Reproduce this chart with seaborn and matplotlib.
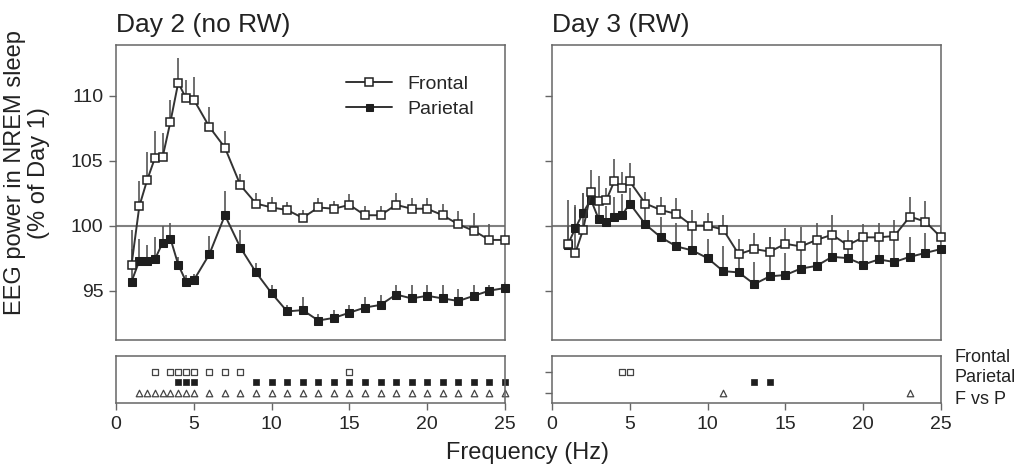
import numpy as np
import pandas as pd
import matplotlib
matplotlib.use("Agg")
import matplotlib.pyplot as plt
import seaborn as sns

#################################################################
# Data
freq = [1, 1.5, 2, 2.5, 3, 3.5, 4, 4.5, 5, 6, 7, 8, 9, 10, 11, 12, 13, 14, 15,
        16, 17, 18, 19, 20, 21, 22, 23, 24, 25]

day2_frontal = [97.0, 101.5, 103.5, 105.2, 105.3, 108.0, 111.0, 109.8, 109.7, 107.6,
                106.0, 103.1, 101.7, 101.4, 101.2, 100.6, 101.4, 101.3, 101.6, 100.8,
                100.8, 101.6, 101.3, 101.3, 100.8, 100.1, 99.6, 98.9, 98.9]
day2_frontal_err = [2.7, 1.9, 2.2, 2.1, 1.8, 1.7, 1.9, 1.4, 1.7, 1.5, 1.3, 0.9, 0.8,
                    0.8, 0.6, 0.6, 0.7, 0.6, 0.8, 0.7, 0.7, 0.9, 0.8, 0.8, 0.9, 1.0,
                    1.4, 1.2, 0.8]
day2_parietal = [95.7, 97.3, 97.3, 97.4, 98.7, 99.0, 97.0, 95.7, 95.8, 97.8, 100.8,
                 98.3, 96.4, 94.8, 93.4, 93.5, 92.7, 92.9, 93.3, 93.7, 93.9, 94.7,
                 94.4, 94.6, 94.4, 94.2, 94.6, 95.0, 95.2]
day2_parietal_err = [2.5, 1.7, 1.2, 1.7, 1.3, 1.2, 0.6, 0.5, 0.5, 1.4, 1.9, 1.4, 0.7,
                     0.6, 0.5, 1.0, 0.5, 0.6, 0.6, 0.8, 0.8, 0.7, 1.0, 0.8, 1.0, 0.9,
                     0.8, 0.4, 0.5]

day3_frontal = [98.6, 97.9, 99.7, 102.6, 101.9, 102.0, 103.4, 102.9, 103.4, 101.7,
                101.2, 100.9, 100.0, 100.0, 99.7, 97.8, 98.2, 98.0, 98.6, 98.4, 98.9,
                99.3, 98.5, 99.1, 99.1, 99.2, 100.7, 100.3, 99.1]
day3_frontal_err = [3.4, 3.5, 2.8, 1.7, 1.9, 0.9, 1.7, 1.2, 1.4, 0.9, 1.0, 1.2, 1.2,
                    1.0, 1.1, 1.2, 1.2, 1.1, 1.2, 1.5, 1.3, 1.5, 1.2, 1.0, 1.1, 1.2,
                    1.5, 1.6, 0.8]
day3_parietal = [98.5, 99.8, 101.0, 102.0, 100.5, 100.3, 100.7, 100.8, 101.7, 100.1,
                 99.1, 98.4, 98.1, 97.5, 96.5, 96.4, 95.5, 96.1, 96.2, 96.7, 96.9,
                 97.6, 97.5, 97.0, 97.4, 97.2, 97.6, 97.9, 98.2]
day3_parietal_err = [1.5, 1.8, 1.5, 1.0, 1.6, 1.2, 1.5, 1.6, 1.2, 1.3, 1.6, 1.8, 2.0,
                     1.5, 1.9, 1.6, 1.7, 3.0, 1.7, 1.7, 2.0, 1.5, 1.2, 2.1, 1.6, 2.0,
                     1.5, 1.5, 1.0]

# significant bins
day2_sig_frontal = [2.5, 3.5, 4, 4.5, 5, 6, 7, 8, 15]
day2_sig_parietal = [4, 4.5, 5, 9, 10, 11, 12, 13, 14, 15, 16, 17, 18, 19, 20, 21,
                     22, 23, 24, 25]
day2_sig_fvp = [1.5, 2, 2.5, 3, 3.5, 4, 4.5, 5, 6, 7, 8, 9, 10, 11, 12, 13, 14, 15,
                16, 17, 18, 19, 20, 21, 22, 23, 24, 25]
day3_sig_frontal = [4.5, 5]
day3_sig_parietal = [13, 14]
day3_sig_fvp = [11, 23]

titles = ["Day 2 (no RW)", "Day 3 (RW)"]
row_labels = ["Frontal", "Parietal", "F vs P"]
#################################################################

sns.set_theme(style="ticks")
plt.rcParams['font.family'] = ['Liberation Sans', 'DejaVu Sans']

line_col = '#333333'
spine_col = '#666666'

fig = plt.figure(figsize=(10.23, 4.65), dpi=100)
W, H = 1023, 465


def px_axes(x0, y0, x1, y1):
    return fig.add_axes([x0 / W, 1 - y1 / H, (x1 - x0) / W, (y1 - y0) / H])


main_axes = [px_axes(116, 45, 505, 340), px_axes(552, 45, 941, 340)]
sig_axes = [px_axes(116, 356, 505, 403), px_axes(552, 356, 941, 403)]

series = [
    (day2_frontal, day2_frontal_err, day2_parietal, day2_parietal_err),
    (day3_frontal, day3_frontal_err, day3_parietal, day3_parietal_err),
]
sigs = [
    (day2_sig_frontal, day2_sig_parietal, day2_sig_fvp),
    (day3_sig_frontal, day3_sig_parietal, day3_sig_fvp),
]

for i, ax in enumerate(main_axes):
    fr, fr_err, pa, pa_err = series[i]
    df = pd.DataFrame({'freq': freq, 'frontal': fr, 'fr_err': fr_err,
                       'parietal': pa, 'pa_err': pa_err})

    ax.axhline(100, color='#808080', lw=1.5, zorder=0)

    # one-sided (upward) error bars
    ax.vlines(df['freq'], df['parietal'], df['parietal'] + df['pa_err'],
              color='#555555', lw=1.2, zorder=1)
    ax.vlines(df['freq'], df['frontal'], df['frontal'] + df['fr_err'],
              color='#555555', lw=1.2, zorder=1)

    sns.lineplot(data=df, x='freq', y='parietal', ax=ax, color=line_col, lw=1.4,
                 marker='s', markersize=5.6, markerfacecolor='#1e1e1e',
                 markeredgecolor='#1e1e1e', label='Parietal', zorder=3,
                 clip_on=False)
    sns.lineplot(data=df, x='freq', y='frontal', ax=ax, color=line_col, lw=1.4,
                 marker='s', markersize=5.8, markerfacecolor='white',
                 markeredgecolor='#222222', markeredgewidth=1.1,
                 label='Frontal', zorder=4, clip_on=False)

    ax.set_xlim(0, 25)
    ax.set_ylim(91.2, 113.9)
    ax.set_yticks([95, 100, 105, 110])
    ax.set_xticks([])
    ax.set_xlabel('')
    ax.set_ylabel('')
    ax.tick_params(axis='y', length=5, width=1, color=spine_col, labelsize=14, pad=4)
    if i == 1:
        ax.tick_params(axis='y', labelleft=False)
    for s in ax.spines.values():
        s.set_color(spine_col)
        s.set_linewidth(1.1)
    ax.get_legend().remove()

    fig.text((116 if i == 0 else 552) / W, 1 - 32 / H, titles[i], fontsize=19,
             ha='left', va='baseline', color='#222222')

# legend in the left panel, Frontal first
h, l = main_axes[0].get_legend_handles_labels()
order = [l.index('Frontal'), l.index('Parietal')]
main_axes[0].legend([h[k] for k in order], [l[k] for k in order],
                    loc='upper left', bbox_to_anchor=(0.57, 0.925), frameon=False,
                    fontsize=14, handlelength=2.4, labelspacing=0.4,
                    borderaxespad=0, markerscale=0.9)

row_y = [3, 2, 1]
for i, ax in enumerate(sig_axes):
    sf, sp, sv = sigs[i]
    sns.scatterplot(x=sf, y=[row_y[0]] * len(sf), ax=ax, marker='s', s=16,
                    facecolor='white', edgecolor='#444444', linewidth=0.9,
                    clip_on=False)
    sns.scatterplot(x=sp, y=[row_y[1]] * len(sp), ax=ax, marker='s', s=18,
                    color='#1e1e1e', edgecolor='#1e1e1e', linewidth=0.5,
                    clip_on=False)
    sns.scatterplot(x=sv, y=[row_y[2]] * len(sv), ax=ax, marker='^', s=22,
                    facecolor='white', edgecolor='#444444', linewidth=0.9,
                    clip_on=False)
    ax.set_xlim(0, 25)
    ax.set_ylim(0.05, 4.5)
    ax.set_xticks([0, 5, 10, 15, 20, 25])
    ax.tick_params(axis='x', length=5, width=1, color=spine_col, labelsize=14, pad=4)
    if i == 1:
        ax.set_yticks([3, 1])
        ax.tick_params(axis='y', length=5, width=1, color=spine_col, labelleft=False)
    else:
        ax.set_yticks([])
    for s in ax.spines.values():
        s.set_color(spine_col)
        s.set_linewidth(1.1)

for k, lab in enumerate(row_labels):
    fig.text(955 / W, 1 - (357 + 21 * k) / H, lab, fontsize=13, ha='left',
             va='center', color='#222222')

fig.text(27 / W, 1 - 173 / H, 'EEG power in NREM sleep\n(% of Day 1)', rotation=90,
         ha='center', va='center', multialignment='center', fontsize=17,
         color='#222222', linespacing=1.1)
fig.text(527 / W, 1 - 453 / H, 'Frequency (Hz)', ha='center', va='center',
         fontsize=17, color='#222222')

fig.savefig('out.png', dpi=100)
